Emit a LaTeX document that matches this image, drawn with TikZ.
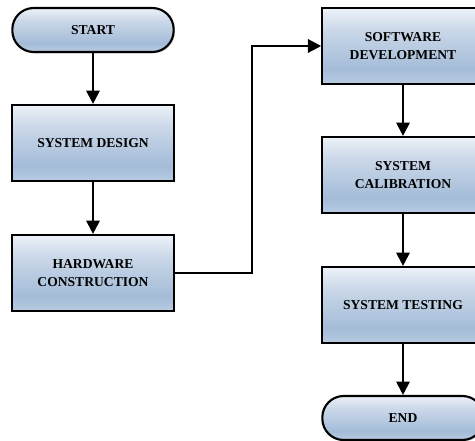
\documentclass[tikz,border=0pt]{standalone}
\usepackage{fontspec}
\setmainfont{Liberation Serif}
\usetikzlibrary{arrows.meta,shadows,calc}
\definecolor{shTop}{HTML}{ECF1F8}
\definecolor{shMid}{HTML}{C9D7E8}
\definecolor{shBot}{HTML}{A4BCD8}
\definecolor{shEdge}{HTML}{B8CBE1}
\pgfdeclareverticalshading{boxshade}{100bp}{color(0bp)=(shEdge); color(25bp)=(shEdge); color(35bp)=(shBot); color(60bp)=(shMid); color(75bp)=(shTop); color(100bp)=(shTop)}
\tikzset{
  procbox/.style={draw=black, line width=1.6pt, shading=boxshade, minimum width=121pt, minimum height=57pt, align=center, font=\bfseries\fontsize{10.2}{13.5}\selectfont, inner sep=2pt, drop shadow={shadow xshift=1pt, shadow yshift=-1pt, opacity=0.35}},
  termbox/.style={procbox, rounded corners=16pt, minimum height=33pt},
  flow/.style={line width=1.6pt, -{Triangle[length=10pt,width=10pt]}}
}
\begin{document}
\begin{tikzpicture}[x=0.75pt,y=-0.75pt]
\useasboundingbox (0,0) rectangle (475,441);
\node[termbox] (start) at (93,30) {START};
\node[procbox] (design) at (93,143) {SYSTEM DESIGN};
\node[procbox] (hw) at (93,273) {HARDWARE\\CONSTRUCTION};
\node[procbox] (sw) at (403,46) {SOFTWARE\\DEVELOPMENT};
\node[procbox] (cal) at (403,175) {SYSTEM\\CALIBRATION};
\node[procbox] (test) at (403,305) {SYSTEM TESTING};
\node[termbox] (end) at (403,418) {END};
\coordinate (j1) at (252,273);
\coordinate (j2) at (252,46);
\draw[flow] (start) -- (design);
\draw[flow] (design) -- (hw);
\draw[flow] (hw.east) -- (j1) -- (j2) -- (sw.west);
\draw[flow] (sw) -- (cal);
\draw[flow] (cal) -- (test);
\draw[flow] (test) -- (end);
\end{tikzpicture}
\end{document}
